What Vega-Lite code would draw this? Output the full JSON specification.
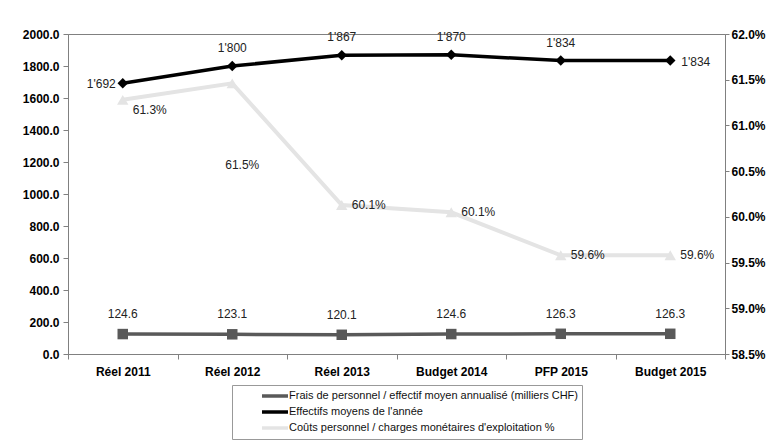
{
  "$schema": "https://vega.github.io/schema/vega-lite/v6.json",
  "width": 657,
  "height": 320,
  "autosize": "none",
  "padding": {"left": 68, "top": 34, "right": 52, "bottom": 90},
  "background": "white",
  "config": {
    "font": "Liberation Sans",
    "locale": {"number": {"decimal": ".", "thousands": "'", "grouping": [3], "currency": ["", ""]}},
    "view": {"stroke": "#808080", "strokeWidth": 1},
    "axis": {"grid": false, "domainColor": "#808080", "tickColor": "#808080", "labelFont": "Liberation Sans", "labelFontWeight": "bold", "labelFontSize": 12, "labelColor": "#000"},
    "legend": {"orient": "none", "legendX": 164, "legendY": 351, "strokeColor": "#999999", "padding": 4, "labelFont": "Liberation Sans", "labelFontSize": 11, "labelColor": "#111", "rowPadding": 2, "symbolType": "M-2.6,0H2.6", "symbolSize": 100, "symbolStrokeWidth": 3.5, "symbolOffset": 32, "labelOffset": 7, "labelLimit": 400, "title": null}
  },
  "data": {"values": [
    {"cat": "Réel 2011", "series": "Frais de personnel / effectif moyen annualisé (milliers CHF)", "value": 124.6},
    {"cat": "Réel 2012", "series": "Frais de personnel / effectif moyen annualisé (milliers CHF)", "value": 123.1},
    {"cat": "Réel 2013", "series": "Frais de personnel / effectif moyen annualisé (milliers CHF)", "value": 120.1},
    {"cat": "Budget 2014", "series": "Frais de personnel / effectif moyen annualisé (milliers CHF)", "value": 124.6},
    {"cat": "PFP 2015", "series": "Frais de personnel / effectif moyen annualisé (milliers CHF)", "value": 126.3},
    {"cat": "Budget 2015", "series": "Frais de personnel / effectif moyen annualisé (milliers CHF)", "value": 126.3},
    {"cat": "Réel 2011", "series": "Effectifs moyens de l'année", "value": 1692},
    {"cat": "Réel 2012", "series": "Effectifs moyens de l'année", "value": 1800},
    {"cat": "Réel 2013", "series": "Effectifs moyens de l'année", "value": 1867},
    {"cat": "Budget 2014", "series": "Effectifs moyens de l'année", "value": 1870},
    {"cat": "PFP 2015", "series": "Effectifs moyens de l'année", "value": 1834},
    {"cat": "Budget 2015", "series": "Effectifs moyens de l'année", "value": 1834},
    {"cat": "Réel 2011", "series": "Coûts personnel / charges monétaires d'exploitation %", "value": 0.6128},
    {"cat": "Réel 2012", "series": "Coûts personnel / charges monétaires d'exploitation %", "value": 0.6146},
    {"cat": "Réel 2013", "series": "Coûts personnel / charges monétaires d'exploitation %", "value": 0.6013},
    {"cat": "Budget 2014", "series": "Coûts personnel / charges monétaires d'exploitation %", "value": 0.6005},
    {"cat": "PFP 2015", "series": "Coûts personnel / charges monétaires d'exploitation %", "value": 0.5958},
    {"cat": "Budget 2015", "series": "Coûts personnel / charges monétaires d'exploitation %", "value": 0.5958}
  ]},
  "encoding": {
    "x": {"field": "cat", "type": "nominal", "sort": null, "title": null,
      "scale": {"paddingInner": 0, "paddingOuter": 0},
      "axis": {"labelAngle": 0, "labelPadding": 7, "tickBand": "extent", "tickSize": 5, "domainColor": "#808080"}},
    "color": {"field": "series", "type": "nominal", "title": null,
      "scale": {"domain": ["Frais de personnel / effectif moyen annualisé (milliers CHF)", "Effectifs moyens de l'année", "Coûts personnel / charges monétaires d'exploitation %"], "range": ["#595959", "#000000", "#e4e4e4"]}}
  },
  "layer": [
    {
      "transform": [{"filter": "datum.series !== \"Coûts personnel / charges monétaires d'exploitation %\""}],
      "encoding": {
        "y": {"field": "value", "type": "quantitative", "title": null,
          "scale": {"domain": [0, 2000], "nice": false},
          "axis": {"orient": "left", "values": [0, 200, 400, 600, 800, 1000, 1200, 1400, 1600, 1800, 2000], "format": ".1f", "tickSize": 5, "labelPadding": 4}}
      },
      "layer": [
        {"mark": {"type": "line", "strokeWidth": 3.5}},
        {"transform": [{"filter": "datum.series === 'Frais de personnel / effectif moyen annualisé (milliers CHF)'"}],
          "mark": {"type": "point", "shape": "square", "filled": true, "opacity": 1, "size": 110}},
        {"transform": [{"filter": "datum.series === \"Effectifs moyens de l'année\""}],
          "mark": {"type": "point", "shape": "diamond", "filled": true, "opacity": 1, "size": 110}},
        {"transform": [{"filter": "datum.series === 'Frais de personnel / effectif moyen annualisé (milliers CHF)'"}],
          "mark": {"type": "text", "dy": -20, "fontSize": 12, "font": "Liberation Sans"},
          "encoding": {"text": {"field": "value", "type": "quantitative", "format": ".1f"}, "color": {"value": "#222"}}},
        {"transform": [{"filter": "datum.series === \"Effectifs moyens de l'année\" && datum.cat !== 'Réel 2011' && datum.cat !== 'Budget 2015'"}],
          "mark": {"type": "text", "dy": -18, "fontSize": 12, "font": "Liberation Sans"},
          "encoding": {"text": {"field": "value", "type": "quantitative", "format": ",.0f"}, "color": {"value": "#222"}}},
        {"transform": [{"filter": "datum.series === \"Effectifs moyens de l'année\" && datum.cat === 'Réel 2011'"}],
          "mark": {"type": "text", "align": "right", "dx": -7, "dy": 1, "fontSize": 12, "font": "Liberation Sans"},
          "encoding": {"text": {"field": "value", "type": "quantitative", "format": ",.0f"}, "color": {"value": "#222"}}},
        {"transform": [{"filter": "datum.series === \"Effectifs moyens de l'année\" && datum.cat === 'Budget 2015'"}],
          "mark": {"type": "text", "align": "left", "dx": 11, "dy": 1, "fontSize": 12, "font": "Liberation Sans"},
          "encoding": {"text": {"field": "value", "type": "quantitative", "format": ",.0f"}, "color": {"value": "#222"}}}
      ]
    },
    {
      "transform": [{"filter": "datum.series === \"Coûts personnel / charges monétaires d'exploitation %\""}],
      "encoding": {
        "y": {"field": "value", "type": "quantitative", "title": null,
          "scale": {"domain": [0.585, 0.62], "nice": false, "zero": false},
          "axis": {"orient": "right", "values": [0.585, 0.59, 0.595, 0.6, 0.605, 0.61, 0.615, 0.62], "format": ".1%", "tickSize": 4, "labelPadding": 2}}
      },
      "layer": [
        {"mark": {"type": "line", "strokeWidth": 4}},
        {"mark": {"type": "point", "shape": "triangle-up", "filled": true, "opacity": 1, "size": 130}},
        {"transform": [{"filter": "datum.cat !== 'Réel 2011' && datum.cat !== 'Réel 2012'"}],
          "mark": {"type": "text", "align": "left", "dx": 10, "dy": 0, "fontSize": 12, "font": "Liberation Sans"},
          "encoding": {"text": {"field": "value", "type": "quantitative", "format": ".1%"}, "color": {"value": "#222"}}},
        {"transform": [{"filter": "datum.cat === 'Réel 2011'"}],
          "mark": {"type": "text", "align": "left", "dx": 10, "dy": 10, "fontSize": 12, "font": "Liberation Sans"},
          "encoding": {"text": {"field": "value", "type": "quantitative", "format": ".1%"}, "color": {"value": "#222"}}},
        {"transform": [{"filter": "datum.cat === 'Réel 2012'"}],
          "mark": {"type": "text", "align": "center", "dx": 10, "dy": 82, "fontSize": 12, "font": "Liberation Sans"},
          "encoding": {"text": {"field": "value", "type": "quantitative", "format": ".1%"}, "color": {"value": "#222"}}}
      ]
    }
  ],
  "resolve": {"scale": {"y": "independent"}}
}
